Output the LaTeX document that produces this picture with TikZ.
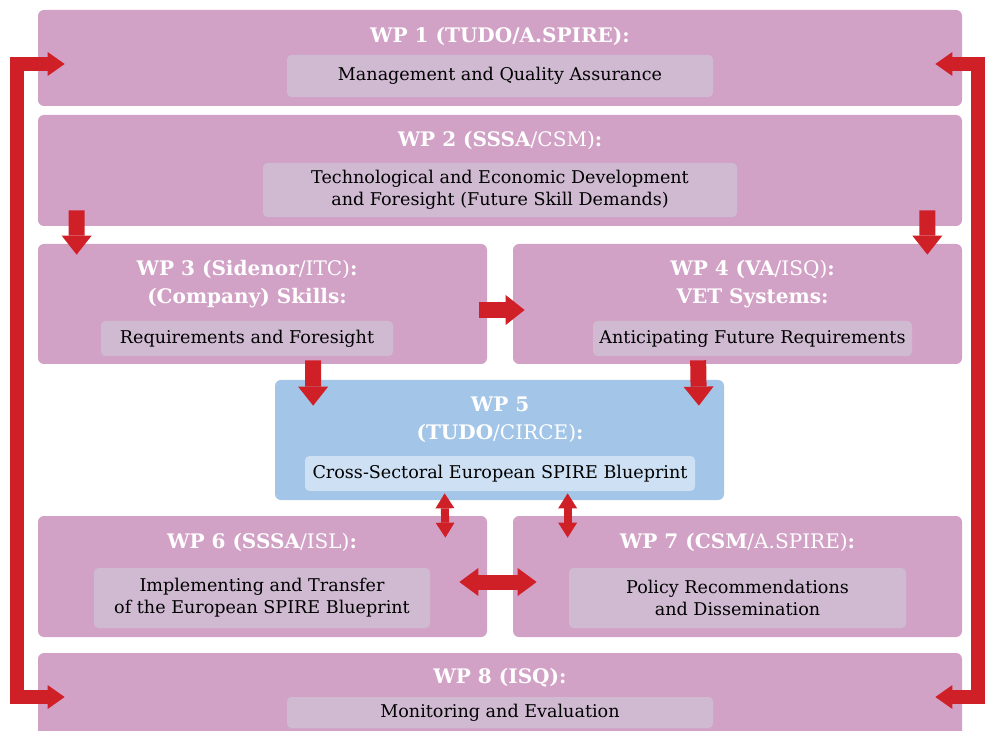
\documentclass[tikz,border=0pt]{standalone}
\usepackage{fontspec}
\setmainfont{DejaVu Serif}
\usepackage{tikz}
\usetikzlibrary{calc}
\usetikzlibrary{arrows.meta}

\definecolor{wppink}{RGB}{210,162,198}
\definecolor{wplight}{RGB}{208,186,210}
\definecolor{wpblue}{RGB}{163,197,231}
\definecolor{wpblight}{RGB}{205,224,244}
\definecolor{wpred}{RGB}{208,32,39}

\tikzset{
  wpbox/.style={fill=wppink, rounded corners=3.4pt, inner sep=0pt},
  wptitle/.style={text=white, align=center, inner sep=0pt,
      font=\bfseries\fontsize{11.4}{15.9}\selectfont},
  wpinner/.style={fill=wplight, rounded corners=2.5pt, inner sep=0pt, align=center,
      font=\fontsize{10}{12.5}\selectfont},
  bigarrow/.style={draw=wpred, line width=0.32cm,
      -{Triangle[width=0.6cm,length=0.38cm,line width=0pt]}},
  looparrow/.style={draw=wpred, line width=0.28cm, line join=miter,
      {Triangle[width=0.48cm,length=0.34cm,line width=0pt]}-{Triangle[width=0.48cm,length=0.34cm,line width=0pt]}},
  thinboth/.style={draw=wpred, line width=0.16cm,
      {Triangle[width=0.38cm,length=0.3cm,line width=0pt]}-{Triangle[width=0.38cm,length=0.3cm,line width=0pt]}},
  wideboth/.style={draw=wpred, line width=0.3cm,
      {Triangle[width=0.56cm,length=0.38cm,line width=0pt]}-{Triangle[width=0.56cm,length=0.38cm,line width=0pt]}}
}

\begin{document}
\begin{tikzpicture}
\useasboundingbox (0,0) rectangle (19.7,-14.62);

% work package boxes
\node[wpbox, minimum width=18.48cm, minimum height=1.92cm] (wp1) at (10,-1.16) {};
\node[wpbox, minimum width=18.48cm, minimum height=2.22cm] (wp2) at (10,-3.41) {};
\node[wpbox, minimum width=8.98cm, minimum height=2.4cm] (wp3) at (5.25,-6.08) {};
\node[wpbox, minimum width=8.98cm, minimum height=2.4cm] (wp4) at (14.75,-6.08) {};
\node[wpbox, fill=wpblue, minimum width=8.98cm, minimum height=2.4cm] (wp5) at (9.99,-8.8) {};
\node[wpbox, minimum width=8.98cm, minimum height=2.42cm] (wp6) at (5.25,-11.53) {};
\node[wpbox, minimum width=8.98cm, minimum height=2.42cm] (wp7) at (14.75,-11.53) {};
\node[wpbox, minimum width=18.48cm, minimum height=1.92cm] (wp8) at (10,-14.02) {};

% titles
\node[wptitle] (wp1t) at (10,-0.72) {WP 1 (TUDO/A.SPIRE):};
\node[wptitle] (wp2t) at (10,-2.8) {WP 2 (SSSA\mdseries/CSM)\bfseries:};
\node[wptitle] (wp3t) at (4.94,-5.68) {WP 3 (Sidenor\mdseries/ITC)\bfseries:\\(Company) Skills:};
\node[wptitle] (wp4t) at (15.05,-5.68) {WP 4 (VA\mdseries/ISQ)\bfseries:\\VET Systems:};
\node[wptitle] (wp5t) at (10,-8.39) {WP 5\\(TUDO\mdseries/CIRCE)\bfseries:};
\node[wptitle] (wp6t) at (5.24,-10.84) {WP 6 (SSSA\mdseries/ISL)\bfseries:};
\node[wptitle] (wp7t) at (14.75,-10.84) {WP 7 (CSM\mdseries/A.SPIRE)\bfseries:};
\node[wptitle] (wp8t) at (10,-13.56) {WP 8 (ISQ):};

% inner labels
\node[wpinner, minimum width=8.52cm, minimum height=0.84cm] (wp1i) at (10,-1.52) {Management and Quality Assurance};
\node[wpinner, minimum width=9.48cm, minimum height=1.08cm] (wp2i) at (10,-3.8) {Technological and Economic Development\\and Foresight (Future Skill Demands)};
\node[wpinner, minimum width=5.84cm, minimum height=0.7cm] (wp3i) at (4.94,-6.77) {Requirements and Foresight};
\node[wpinner, minimum width=6.38cm, minimum height=0.7cm] (wp4i) at (15.05,-6.77) {Anticipating Future Requirements};
\node[wpinner, fill=wpblight, minimum width=7.8cm, minimum height=0.7cm] (wp5i) at (10,-9.47) {Cross-Sectoral European SPIRE Blueprint};
\node[wpinner, minimum width=6.72cm, minimum height=1.2cm] (wp6i) at (5.24,-11.96) {Implementing and Transfer\\of the European SPIRE Blueprint};
\node[wpinner, minimum width=6.74cm, minimum height=1.2cm] (wp7i) at (14.75,-11.96) {Policy Recommendations\\and Dissemination};
\node[wpinner, minimum width=8.52cm, minimum height=0.62cm] (wp8i) at (10,-14.25) {Monitoring and Evaluation};

% arrows between packages
\draw[bigarrow] ($(wp2.south west)+(0.78,0.32)$) -- ($(wp3.north west)+(0.78,-0.22)$);
\draw[bigarrow] ($(wp2.south east)+(-0.7,0.32)$) -- ($(wp4.north east)+(-0.7,-0.22)$);
\draw[bigarrow] ($(wp3.south west)+(5.51,0.08)$) -- ($(wp5.north west)+(0.77,-0.52)$);
\draw[bigarrow] ($(wp4.south west)+(3.71,0.08)$) -- ($(wp5.north east)+(-0.51,-0.52)$);
\draw[bigarrow] ($(wp3.east)+(-0.16,-0.12)$) -- ($(wp4.west)+(0.24,-0.12)$);
\draw[thinboth] ($(wp5.south west)+(3.4,0.14)$) -- ($(wp6.north east)+(-0.84,-0.44)$);
\draw[thinboth] ($(wp5.south west)+(5.86,0.14)$) -- ($(wp7.north west)+(1.1,-0.44)$);
\draw[wideboth] ($(wp6.east)+(-0.56,-0.11)$) -- ($(wp7.west)+(0.48,-0.11)$);

% feedback loops
\draw[looparrow] ($(wp1.west)+(0.54,-0.12)$) -- ++(-0.96,0) |- ($(wp8.west)+(0.54,0.08)$);
\draw[looparrow] ($(wp1.east)+(-0.54,-0.12)$) -- ++(0.86,0) |- ($(wp8.east)+(-0.54,0.08)$);
\end{tikzpicture}
\end{document}
